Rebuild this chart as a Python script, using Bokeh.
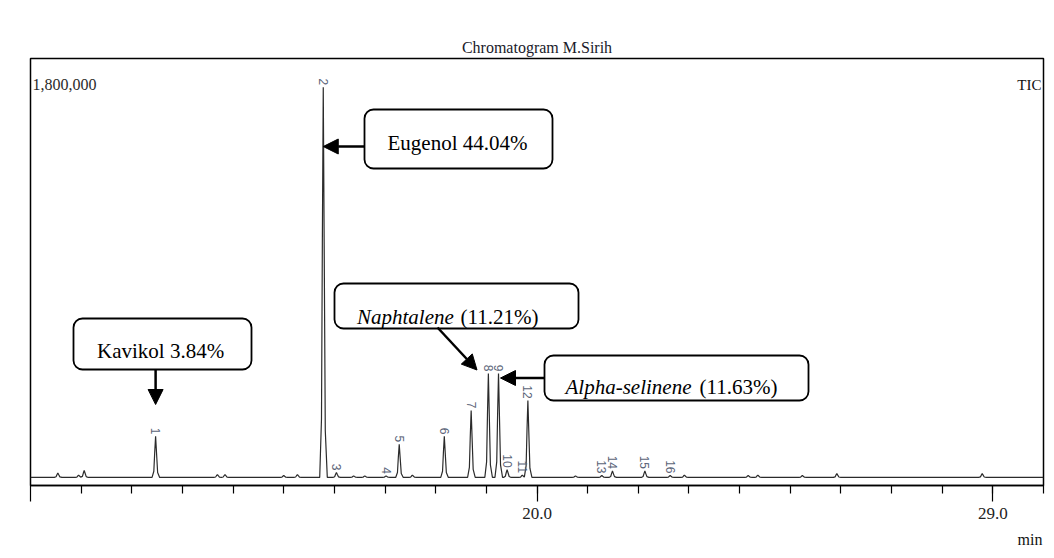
import numpy as np
from bokeh.plotting import figure
from bokeh.models import Range1d, FixedTicker, BoxAnnotation, Label, Arrow, NormalHead, Title
from bokeh.core.properties import value
from bokeh.embed import file_html
from bokeh.resources import INLINE

# ---------------- data ----------------
title_text = "Chromatogram M.Sirih"
y_max_label = "1,800,000"
signal_label = "TIC"
x_unit_label = "min"

peak_labels = ["1", "2", "3", "4", "5", "6", "7", "8", "9", "10",
               "11", "12", "13", "14", "15", "16"]
peak_rt = [12.47, 15.78, 16.04, 17.02, 17.28, 18.17, 18.70, 19.04,
           19.24, 19.41, 19.71, 19.82, 21.28, 21.49, 22.13, 22.63]
peak_height = [207000, 1679000, 55000, 40000, 174000, 207000, 316000, 472000,
               472000, 67000, 44000, 358000, 42000, 61000, 61000, 42000]

minor_rt = [10.54, 10.95, 11.06, 13.69, 13.84, 15.00, 15.27, 16.38, 16.60,
            17.54, 20.76, 22.91, 24.17, 24.36, 25.24, 25.92, 28.79]
minor_height = [53000, 44000, 63000, 46000, 46000, 42000, 46000, 40000, 40000,
                44000, 40000, 44000, 42000, 44000, 42000, 50000, 50000]

baseline_level = 34000

# shape of a peak: time offset (min) and fraction of peak height
profile_dt = [-0.07, -0.035, -0.018, 0.0, 0.018, 0.04, 0.08]
profile_frac = [0.0, 0.15, 0.6, 1.0, 0.6, 0.12, 0.0]

x_start, x_end = 10.0, 30.0
y_start, y_end = 0.0, 1800000.0
major_ticks = [10, 20, 29]
major_tick_labels = {10: "", 20: "20.0", 29: "29.0"}
minor_ticks = list(range(11, 31))

callout_texts = {
    "eugenol": ("Eugenol 44.04%", None),
    "kavikol": ("Kavikol 3.84%", None),
    "naphtalene": ("Naphtalene", "(11.21%)"),
    "alpha": ("Alpha-selinene", "(11.63%)"),
}

# ---------------- build trace from peaks ----------------
all_rt = peak_rt + minor_rt
all_h = peak_height + minor_height
knots = {x_start, x_end}
for rt in all_rt:
    for d in profile_dt:
        knots.add(round(rt + d, 4))
trace_t = np.array(sorted(knots))
trace_y = np.full(len(trace_t), float(baseline_level))
for rt, h in zip(all_rt, all_h):
    trace_y += (h - baseline_level) * np.interp(trace_t - rt, profile_dt, profile_frac,
                                                left=0.0, right=0.0)

# ---------------- figure ----------------
W, H = 1054, 558
ML, MR, MT, MB = 30, 11, 58, 73
fw, fh = W - ML - MR, H - MT - MB

p = figure(width=W, height=H, x_range=Range1d(x_start, x_end),
           y_range=Range1d(y_start, y_end), output_backend="svg",
           toolbar_location=None, min_border_left=ML, min_border_right=MR,
           min_border_top=MT, min_border_bottom=MB, title=title_text)
p.title.align = "center"
p.title.text_font = "Liberation Serif"
p.title.text_font_size = "16px"
p.title.text_font_style = "normal"
p.title.text_color = "#1a1a2a"
p.title.standoff = 5

p.grid.visible = False
p.yaxis.visible = False
p.outline_line_color = "black"
p.outline_line_width = 1.5
p.outline_line_alpha = 1.0
p.background_fill_color = "white"
p.border_fill_color = "white"

xa = p.xaxis[0]
xa.ticker = FixedTicker(ticks=major_ticks, minor_ticks=minor_ticks)
xa.major_label_overrides = major_tick_labels
xa.axis_line_color = "black"
xa.axis_line_width = 1.5
xa.major_tick_in = 0
xa.major_tick_out = 16
xa.minor_tick_in = 0
xa.minor_tick_out = 8
xa.major_tick_line_color = "black"
xa.minor_tick_line_color = "black"
xa.major_tick_line_width = 1.2
xa.minor_tick_line_width = 1.2
xa.major_label_text_font = "Liberation Serif"
xa.major_label_text_font_size = "17px"
xa.major_label_text_color = "#222222"
xa.major_label_standoff = 6

# unit label under the axis, right aligned
unit_title = Title(text=x_unit_label, align="right", text_font="Liberation Serif",
                   text_font_size="16px", text_font_style="normal",
                   text_color="#111111", standoff=14, offset=1)
p.add_layout(unit_title, "below")

# trace
p.line(trace_t, trace_y, line_color="#2b2b2b", line_width=1.2)


# helpers for converting reference pixel positions of annotations
def dx(px):
    return x_start + (px - ML) * (x_end - x_start) / fw


def dy(py):
    return y_start + (H - MB - py) * (y_end - y_start) / fh


ypp = (y_end - y_start) / fh

# peak number labels (rotated)
label_y = [h + 2 * ypp for h in peak_height]
p.text(x=peak_rt, y=label_y, text=peak_labels, angle=-np.pi / 2,
       text_align="right", text_baseline="middle",
       text_font=value("Liberation Sans"), text_font_size="12px",
       text_color="#5b6478")

# corner texts
p.add_layout(Label(x=dx(32), y=dy(84), text=y_max_label, text_align="left",
                   text_baseline="alphabetic", text_font="Liberation Serif",
                   text_font_size="16px", text_color="#2a2a2a"))
p.add_layout(Label(x=dx(1041), y=dy(84), text=signal_label, text_align="right",
                   text_baseline="alphabetic", text_font="Liberation Serif",
                   text_font_size="15px", text_color="#111111"))

# callout boxes
boxes = {
    "eugenol": (364, 552, 109, 168),
    "kavikol": (73, 251, 318, 369),
    "naphtalene": (334, 578, 283, 328),
    "alpha": (544, 808, 355, 400),
}
for key, (l, r, t, b) in boxes.items():
    p.add_layout(BoxAnnotation(left=dx(l), right=dx(r), top=dy(t), bottom=dy(b),
                               fill_color="white", fill_alpha=1.0,
                               line_color="black", line_alpha=1.0, line_width=1.8,
                               border_radius=9))

text_pos = {
    "eugenol": (387, 142, None),
    "kavikol": (96.5, 350, None),
    "naphtalene": (356.5, 316, 460),
    "alpha": (565, 386, 699),
}
for key, (lx, by, rx) in text_pos.items():
    first, second = callout_texts[key]
    p.add_layout(Label(x=dx(lx), y=dy(by), text=first, text_align="left",
                       text_baseline="alphabetic", text_font="Liberation Serif",
                       text_font_size="21px", text_color="black",
                       text_font_style="italic" if second else "normal"))
    if second:
        p.add_layout(Label(x=dx(rx), y=dy(by), text=second, text_align="left",
                           text_baseline="alphabetic", text_font="Liberation Serif",
                           text_font_size="21px", text_color="black"))

# arrows
arrows = [
    (dx(364), dy(146), peak_rt[1], dy(146)),
    (peak_rt[0], dy(369), peak_rt[0], dy(404)),
    (dx(437), dy(327), dx(476.5), dy(369.5)),
    (dx(544), dy(377.5), dx(500), dy(377.5)),
]
for xs, ys, xe, ye in arrows:
    p.add_layout(Arrow(x_start=xs, y_start=ys, x_end=xe, y_end=ye,
                       line_color="black", line_width=2.5,
                       end=NormalHead(size=15, fill_color="black",
                                      line_color="black", line_width=1)))

open("out.html", "w").write(file_html(p, INLINE))
